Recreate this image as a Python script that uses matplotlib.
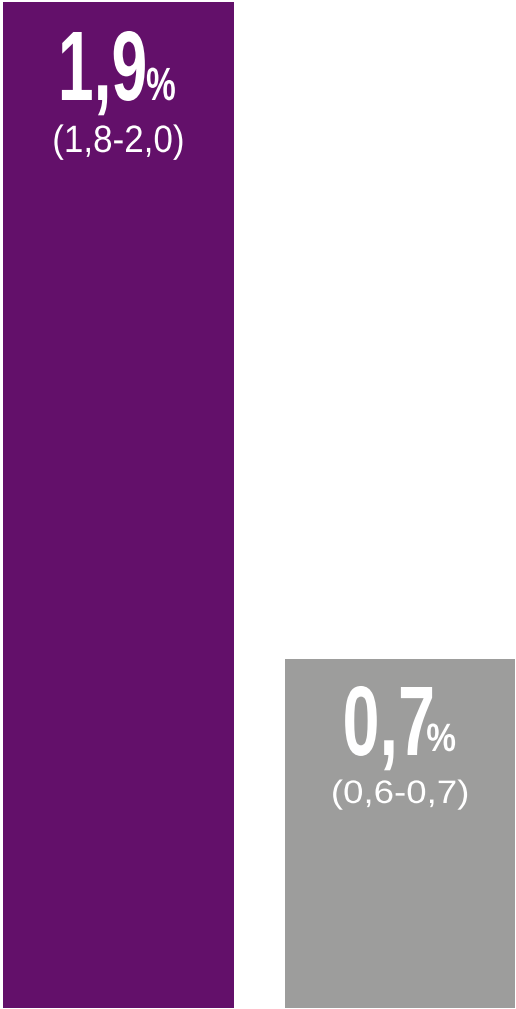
import matplotlib
matplotlib.use('Agg')
import matplotlib.pyplot as plt
import numpy as np
from matplotlib.textpath import TextPath
from matplotlib.patches import PathPatch
from matplotlib.font_manager import FontProperties
from matplotlib.transforms import Affine2D, IdentityTransform

# data
heights = [1.9, 0.66]          # bar lengths as drawn
values = ['1,9', '0,7']        # headline numbers
ranges = ['(1,8-2,0)', '(0,6-0,7)']
colors = ['#63106a', '#9d9d9c']

W, H = 516, 1009
fig = plt.figure(figsize=(W / 100, H / 100), dpi=100)
ax = fig.add_axes([0, 0, 1, 1])
x = np.arange(len(heights))
ax.bar(x, heights, width=0.819, color=colors, linewidth=0)
ax.set_xlim(-0.4202, 1.4113)
ax.set_ylim(-0.0019, 1.9038)
ax.axis('off')

bold = FontProperties(family='Liberation Sans', weight='bold')
reg = FontProperties(family='Liberation Sans')


def squeezed(s, prop, digit_h, ink_w):
    # text as a path, scaled to a digit height and an ink width (condensed look)
    ref = TextPath((0, 0), '0', size=100, prop=prop).get_extents().height
    tp = TextPath((0, 0), s, size=100, prop=prop)
    k = digit_h / ref
    ext = tp.get_extents()
    sx = ink_w / (ext.width * k)
    return tp.transformed(Affine2D().translate(-ext.x0, 0).scale(k * sx, k))


def put(parts, xc):
    # parts: list of (path, baseline from top, gap before); centred on xc
    widths = [p.get_extents().width for p, _, _ in parts]
    total = sum(widths) + sum(g for _, _, g in parts)
    xl = xc - total / 2
    for (p, yb, g), w in zip(parts, widths):
        xl += g
        p = p.transformed(Affine2D().translate(xl, H - yb))
        ax.add_patch(PathPatch(p, transform=IdentityTransform(), facecolor='white',
                               edgecolor='none', lw=0))
        xl += w


# per bar: (digit height, ink width, baseline) for number, % and range, plus % gap
style = [
    dict(num=(70, 83, 100), pct=(33, 28, 100), gap=2, rng=(27, 128, 152)),
    dict(num=(70, 87, 755), pct=(28, 28, 751), gap=-5, rng=(23, 134, 803)),
]

for i in range(len(heights)):
    xc = ax.transData.transform((x[i], 0))[0]
    st = style[i]
    num = squeezed(values[i], bold, st['num'][0], st['num'][1])
    pct = squeezed('%', bold, st['pct'][0], st['pct'][1])
    put([(num, st['num'][2], 0), (pct, st['pct'][2], st['gap'])], xc)
    rng = squeezed(ranges[i], reg, st['rng'][0], st['rng'][1])
    put([(rng, st['rng'][2], 0)], xc)

fig.savefig('out.png', dpi=100)
